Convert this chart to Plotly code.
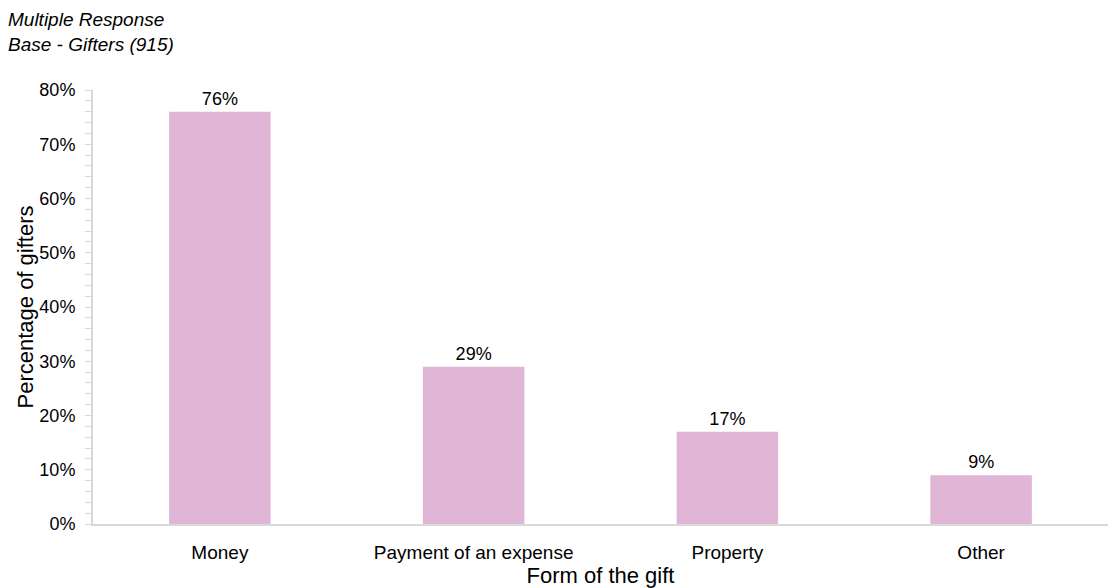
import plotly.graph_objects as go

categories = ["Money", "Payment of an expense", "Property", "Other"]
percent_gifters = [76, 29, 17, 9]
y_tick_values = [0, 10, 20, 30, 40, 50, 60, 70, 80]
y_tick_labels = [f"{v}%" for v in y_tick_values]

bar_colour = "#E1B5D6"
axis_colour = "#D9D9D9"
font_family = "Liberation Sans, Arial, sans-serif"

fig = go.Figure(
    go.Bar(
        x=categories,
        y=percent_gifters,
        marker=dict(color=bar_colour, line=dict(width=0)),
        text=[f"{v}%" for v in percent_gifters],
        textposition="outside",
        textfont=dict(size=18, color="#000000", family=font_family),
        cliponaxis=False,
        width=0.4,
    )
)

fig.update_layout(
    width=1108,
    height=588,
    margin=dict(l=93, r=0, t=90, b=64),
    paper_bgcolor="white",
    plot_bgcolor="white",
    font=dict(family=font_family, size=18, color="#000000"),
    showlegend=False,
    annotations=[
        dict(
            text="<i>Multiple Response<br>Base - Gifters (915)</i>",
            xref="paper", yref="paper",
            x=-0.086, y=1.0, xanchor="left", yanchor="bottom",
            yshift=33,
            align="left",
            showarrow=False,
            font=dict(size=19, family=font_family, color="#000000"),
        )
    ],
)

fig.update_xaxes(
    showline=True,
    linecolor=axis_colour,
    linewidth=2,
    showgrid=False,
    ticks="",
    tickfont=dict(size=19),
    ticklabelstandoff=10,
    title=dict(text="Form of the gift", font=dict(size=22), standoff=4),
    range=[-0.5, 3.5],
)

fig.update_yaxes(
    range=[0, 80],
    tickvals=y_tick_values,
    ticktext=y_tick_labels,
    showline=True,
    linecolor=axis_colour,
    linewidth=2,
    showgrid=False,
    zeroline=False,
    ticks="outside",
    ticklen=6,
    tickcolor=axis_colour,
    minor=dict(dtick=2, ticks="outside", ticklen=6, tickcolor=axis_colour, showgrid=False),
    tickfont=dict(size=18),
    ticklabelstandoff=6,
    title=dict(text="Percentage of gifters", font=dict(size=22), standoff=0),
)

fig.write_html("out.html")
